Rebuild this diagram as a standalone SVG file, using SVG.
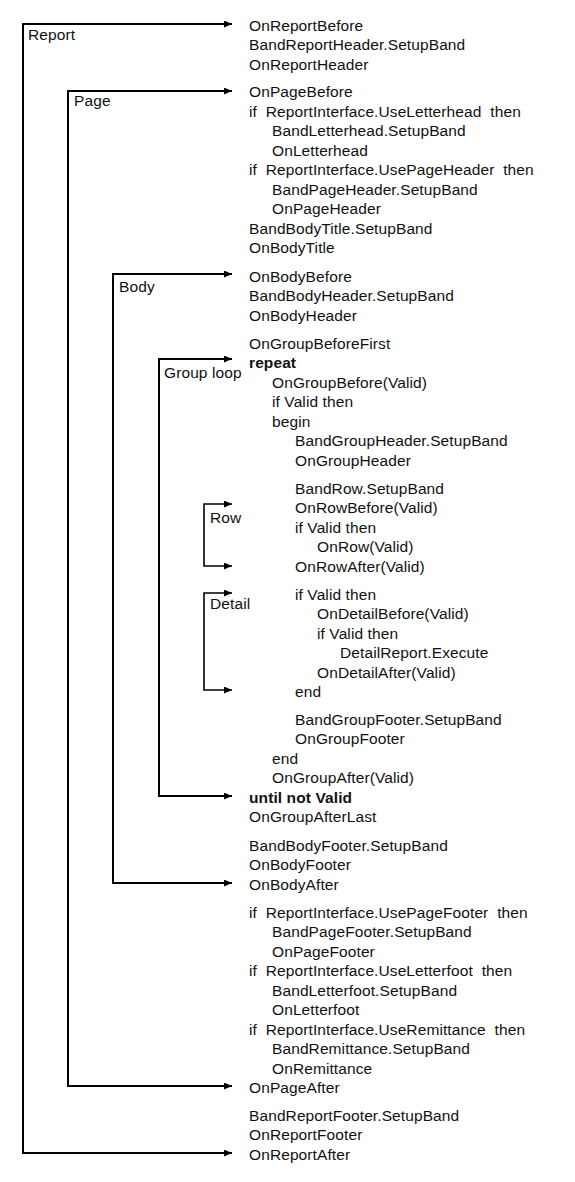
<svg xmlns="http://www.w3.org/2000/svg" width="575" height="1182" viewBox="0 0 575 1182">
<style>
text{font-family:"Liberation Sans",Arial,sans-serif;font-size:15.5px;fill:#111;white-space:pre;letter-spacing:0.1px}
.b{font-weight:bold}
.ln{fill:none;stroke:#000;stroke-width:2;marker-start:url(#ahs);marker-end:url(#ah)}
.thin{stroke-width:1.6}
</style>
<defs>
<marker id="ah" markerUnits="userSpaceOnUse" markerWidth="9" markerHeight="7" refX="8" refY="3.5" orient="auto">
<path d="M0,0 L8,3.5 L0,7 z" fill="#000"/>
</marker>
<marker id="ahs" markerUnits="userSpaceOnUse" markerWidth="9" markerHeight="7" refX="8" refY="3.5" orient="auto-start-reverse">
<path d="M0,0 L8,3.5 L0,7 z" fill="#000"/>
</marker>
</defs>
<rect width="575" height="1182" fill="#fff"/>
<g id="connectors">
<path class="ln" d="M232,24 H23 V1153 H232"/>
<path class="ln" d="M232,91 H68 V1086 H232"/>
<path class="ln" d="M232,274 H113 V883 H232"/>
<path class="ln" d="M232,359 H159 V796 H232"/>
<path class="ln thin" d="M232,504 H204 V566 H232"/>
<path class="ln thin" d="M232,593 H204 V690 H232"/>
</g>
<g id="label-report"><text x="28" y="39.5">Report</text></g>
<g id="label-page"><text x="74" y="106">Page</text></g>
<g id="label-body"><text x="119" y="291.5">Body</text></g>
<g id="label-group"><text x="164" y="377.5">Group loop</text></g>
<g id="label-row"><text x="210" y="522.5">Row</text></g>
<g id="label-detail"><text x="210" y="609">Detail</text></g>
<g id="code">
<text x="249" y="30.5">OnReportBefore</text>
<text x="249" y="50">BandReportHeader.SetupBand</text>
<text x="249" y="69.5">OnReportHeader</text>
<text x="249" y="97.3">OnPageBefore</text>
<text x="249" y="116.8">if  ReportInterface.UseLetterhead  then</text>
<text x="272" y="136.3">BandLetterhead.SetupBand</text>
<text x="272" y="155.8">OnLetterhead</text>
<text x="249" y="175.3">if  ReportInterface.UsePageHeader  then</text>
<text x="272" y="194.8">BandPageHeader.SetupBand</text>
<text x="272" y="214.3">OnPageHeader</text>
<text x="249" y="233.8">BandBodyTitle.SetupBand</text>
<text x="249" y="253.3">OnBodyTitle</text>
<text x="249" y="281.5">OnBodyBefore</text>
<text x="249" y="301">BandBodyHeader.SetupBand</text>
<text x="249" y="320.5">OnBodyHeader</text>
<text x="249" y="348.5">OnGroupBeforeFirst</text>
<text x="249" y="368" class="b">repeat</text>
<text x="272" y="387.5">OnGroupBefore(Valid)</text>
<text x="272" y="407">if Valid then</text>
<text x="272" y="426.5">begin</text>
<text x="295" y="446">BandGroupHeader.SetupBand</text>
<text x="295" y="465.5">OnGroupHeader</text>
<text x="295" y="493.5">BandRow.SetupBand</text>
<text x="295" y="513">OnRowBefore(Valid)</text>
<text x="295" y="532.5">if Valid then</text>
<text x="317" y="552">OnRow(Valid)</text>
<text x="295" y="571.5">OnRowAfter(Valid)</text>
<text x="295" y="599.5">if Valid then</text>
<text x="317" y="619">OnDetailBefore(Valid)</text>
<text x="317" y="638.5">if Valid then</text>
<text x="340" y="658">DetailReport.Execute</text>
<text x="317" y="677.5">OnDetailAfter(Valid)</text>
<text x="295" y="697">end</text>
<text x="295" y="724.5">BandGroupFooter.SetupBand</text>
<text x="295" y="744">OnGroupFooter</text>
<text x="272" y="763.5">end</text>
<text x="272" y="783">OnGroupAfter(Valid)</text>
<text x="249" y="802.5" class="b">until not Valid</text>
<text x="249" y="822">OnGroupAfterLast</text>
<text x="249" y="850.5">BandBodyFooter.SetupBand</text>
<text x="249" y="870">OnBodyFooter</text>
<text x="249" y="889.5">OnBodyAfter</text>
<text x="249" y="917.5">if  ReportInterface.UsePageFooter  then</text>
<text x="272" y="937">BandPageFooter.SetupBand</text>
<text x="272" y="956.5">OnPageFooter</text>
<text x="249" y="976">if  ReportInterface.UseLetterfoot  then</text>
<text x="272" y="995.5">BandLetterfoot.SetupBand</text>
<text x="272" y="1015">OnLetterfoot</text>
<text x="249" y="1034.5">if  ReportInterface.UseRemittance  then</text>
<text x="272" y="1054">BandRemittance.SetupBand</text>
<text x="272" y="1073.5">OnRemittance</text>
<text x="249" y="1093">OnPageAfter</text>
<text x="249" y="1120.5">BandReportFooter.SetupBand</text>
<text x="249" y="1140">OnReportFooter</text>
<text x="249" y="1159.5">OnReportAfter</text>
</g>
</svg>
